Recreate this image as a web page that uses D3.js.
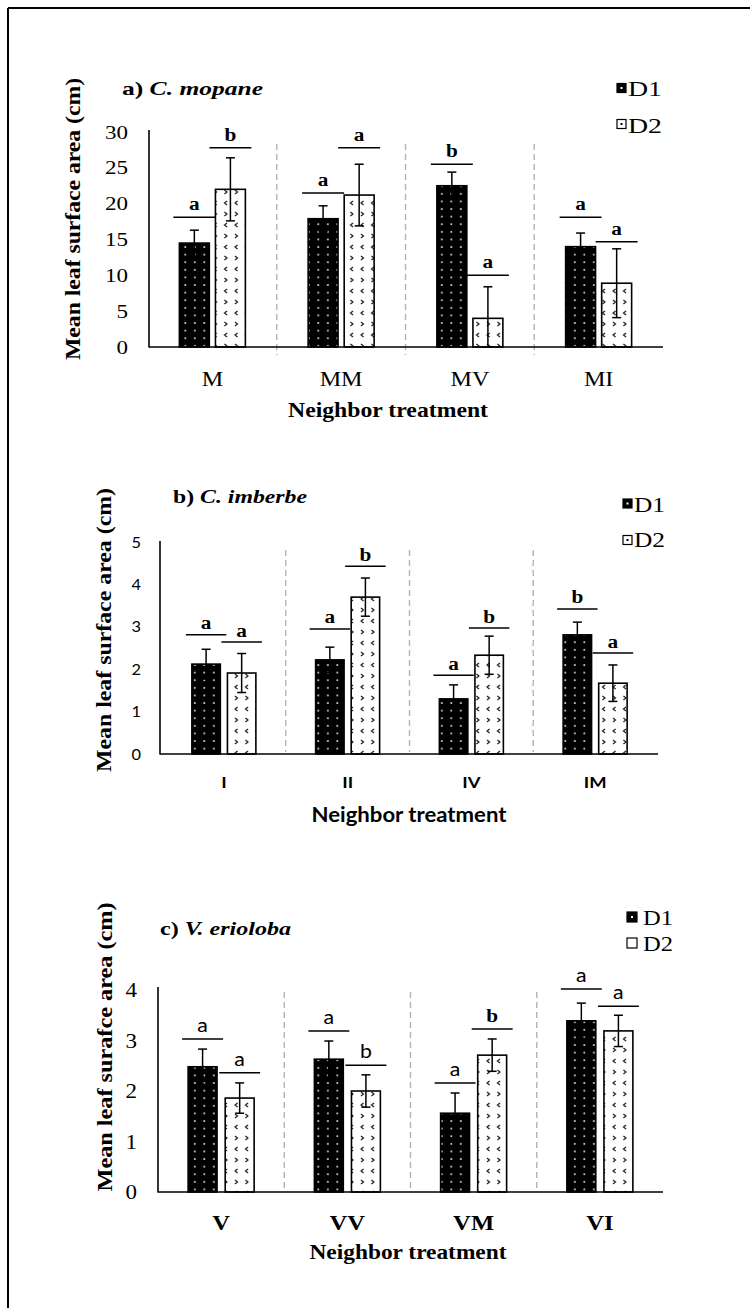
<!DOCTYPE html>
<html>
<head>
<meta charset="utf-8">
<script src="https://cdn.jsdelivr.net/npm/d3@7"></script>
<style>
  html, body { margin: 0; padding: 0; background: #fff; }
  svg { display: block; }
</style>
</head>
<body>
<div id="chart"></div>
<script>
// ---------------- DATA ----------------
const series = ["D1", "D2"];

// a) C. mopane
const catsA = ["M", "MM", "MV", "MI"];
const d1A = [14.5, 17.9, 22.5, 14.0];
const d1ErrA = [1.8, 1.8, 1.9, 1.9];
const d2A = [22.0, 21.2, 4.0, 8.9];
const d2ErrA = [4.4, 4.3, 4.4, 4.8];
const letD1A = ["a", "a", "b", "a"];
const letD2A = ["b", "a", "a", "a"];
const lineD1A = [18.1, 21.5, 25.5, 18.1];
const lineD2A = [27.8, 27.8, 10.0, 14.7];
const ticksA = [0, 5, 10, 15, 20, 25, 30];

// b) C. imberbe
const catsB = ["I", "II", "IV", "IM"];
const d1B = [2.12, 2.22, 1.30, 2.81];
const d1ErrB = [0.35, 0.30, 0.33, 0.30];
const d2B = [1.91, 3.70, 2.33, 1.67];
const d2ErrB = [0.46, 0.45, 0.45, 0.43];
const letD1B = ["a", "a", "a", "b"];
const letD2B = ["a", "b", "b", "a"];
const lineD1B = [2.81, 2.95, 1.86, 3.42];
const lineD2B = [2.64, 4.43, 2.97, 2.38];
const ticksB = [0, 1, 2, 3, 4, 5];

// c) V. erioloba
const catsC = ["V", "VV", "VM", "VI"];
const d1C = [2.48, 2.63, 1.56, 3.39];
const d1ErrC = [0.35, 0.36, 0.40, 0.35];
const d2C = [1.86, 2.00, 2.71, 3.19];
const d2ErrC = [0.30, 0.32, 0.32, 0.31];
const letD1C = ["a", "a", "a", "a"];
const letD2C = ["a", "b", "b", "a"];
const lineD1C = [3.03, 3.19, 2.16, 4.02];
const lineD2C = [2.36, 2.51, 3.23, 3.68];
const ticksC = [0, 1, 2, 3, 4];

// ---------------- RENDER ----------------
const W = 750, H = 1308;
const SERIF = "'Liberation Serif','Times New Roman',serif";
const SANS = "Lato,'Open Sans',sans-serif";

const svg = d3.select("#chart").append("svg")
  .attr("width", W).attr("height", H).attr("viewBox", `0 0 ${W} ${H}`);

const defs = svg.append("defs");
const p1 = defs.append("pattern").attr("id", "dots").attr("patternUnits", "userSpaceOnUse")
  .attr("width", 9.5).attr("height", 7.6);
p1.append("rect").attr("width", 9.5).attr("height", 7.6).attr("fill", "#000");
p1.append("rect").attr("x", 4).attr("y", 3).attr("width", 1.7).attr("height", 1.7).attr("fill", "#d8d8d8");

const p2 = defs.append("pattern").attr("id", "chev").attr("patternUnits", "userSpaceOnUse")
  .attr("width", 10.5).attr("height", 22);
p2.append("rect").attr("width", 10.5).attr("height", 22).attr("fill", "#fff");
p2.append("path").attr("d", "M6.5,3 L4,5 L6.5,7").attr("stroke", "#000").attr("stroke-width", 1).attr("fill", "none");
p2.append("path").attr("d", "M4,14 L6.5,16 L4,18").attr("stroke", "#000").attr("stroke-width", 1).attr("fill", "none");

// frame (top & left visible)
svg.append("line").attr("x1", 8).attr("y1", 8).attr("x2", W).attr("y2", 8).attr("stroke", "#000").attr("stroke-width", 2);
svg.append("line").attr("x1", 8).attr("y1", 8).attr("x2", 8).attr("y2", H).attr("stroke", "#000").attr("stroke-width", 2);

function T(g, s, x, y, o) {
  let tr = `translate(${x},${y})`;
  if (o.sx) tr += ` scale(${o.sx},1)`;
  if (o.rot) tr += ` rotate(${o.rot})`;
  const t = g.append("text").attr("transform", tr)
    .attr("font-family", o.fam || SERIF).attr("font-size", o.size)
    .attr("font-weight", o.weight || "normal").attr("font-style", o.style || "normal")
    .attr("text-anchor", o.anchor || "start").attr("fill", "#000");
  if (o.len) t.attr("textLength", o.len).attr("lengthAdjust", "spacingAndGlyphs");
  t.text(s);
  return t;
}

function panel(cfg) {
  const g = svg.append("g");
  const x = d3.scaleBand().domain(cfg.cats).range(cfg.xr).paddingInner(0).paddingOuter(0);
  const y = d3.scaleLinear().domain([0, cfg.ticks[cfg.ticks.length - 1]]).range(cfg.yr);
  const xi = d3.scaleBand().domain(series)
    .range([-cfg.half, cfg.half]).paddingInner(cfg.gapPad);

  // dashed separators
  cfg.cats.slice(1).forEach(c => {
    g.append("line").attr("x1", x(c)).attr("x2", x(c))
      .attr("y1", cfg.sepTop).attr("y2", cfg.sepBot)
      .attr("stroke", "#b3b3b3").attr("stroke-width", 1.4).attr("stroke-dasharray", "6,4");
  });

  // ticks labels
  cfg.ticks.forEach(t => {
    const s = String(t);
    T(g, s, cfg.tickX, y(t) + cfg.tickDy, { fam: cfg.tickFam, size: cfg.tickSize, anchor: "end", len: cfg.digitW * s.length });
  });

  const rows = cfg.cats.map((c, i) => ({
    c, i,
    vals: [
      { s: "D1", v: cfg.d1[i], e: cfg.e1[i], l: cfg.l1[i], ly: cfg.ly1[i] },
      { s: "D2", v: cfg.d2[i], e: cfg.e2[i], l: cfg.l2[i], ly: cfg.ly2[i] }
    ]
  }));

  rows.forEach(r => {
    const cx = x(r.c) + x.bandwidth() / 2;
    r.vals.forEach(d => {
      const bx = cx + xi(d.s), bw = xi.bandwidth();
      g.append("rect").attr("x", bx).attr("y", y(d.v)).attr("width", bw).attr("height", y(0) - y(d.v))
        .attr("fill", d.s === "D1" ? "url(#dots)" : "url(#chev)")
        .attr("stroke", "#000").attr("stroke-width", 1.6);
      const ex = bx + bw / 2;
      const eTop = y(d.v + d.e), eBot = y(Math.max(0, d.v - d.e));
      g.append("line").attr("x1", ex).attr("x2", ex).attr("y1", eTop).attr("y2", eBot)
        .attr("stroke", "#000").attr("stroke-width", 1.5);
      [eTop, eBot].forEach(yy => g.append("line").attr("x1", ex - 4.5).attr("x2", ex + 4.5)
        .attr("y1", yy).attr("y2", yy).attr("stroke", "#000").attr("stroke-width", 1.5));
      // significance line + letter
      const lyy = y(d.ly);
      g.append("line").attr("x1", bx - 6).attr("x2", bx + bw + 6).attr("y1", lyy).attr("y2", lyy)
        .attr("stroke", "#000").attr("stroke-width", 1.5);
      const lf = cfg.letterFont(r.i, d.s, d.l);
      T(g, d.l, bx + bw / 2, lyy - cfg.letterGap, { fam: lf.fam, size: lf.size, weight: lf.weight, anchor: "middle", sx: 1.12 });
    });
  });

  // axes lines
  g.append("line").attr("x1", cfg.axisX).attr("x2", cfg.axisX).attr("y1", cfg.axisTop).attr("y2", y(0) + 0.5)
    .attr("stroke", "#000").attr("stroke-width", 1.6);
  g.append("line").attr("x1", cfg.axisX).attr("x2", cfg.xEnd).attr("y1", y(0)).attr("y2", y(0))
    .attr("stroke", "#000").attr("stroke-width", 1.6);

  // category labels
  cfg.cats.forEach(c => {
    T(g, c, x(c) + x.bandwidth() / 2, cfg.catY, { fam: cfg.catFam, size: cfg.catSize, weight: cfg.catWeight, anchor: "middle", sx: cfg.catSx });
  });

  // x title
  T(g, "Neighbor treatment", cfg.xtX, cfg.xtY, { fam: cfg.xtFam, size: cfg.xtSize, weight: "bold", anchor: "middle", len: cfg.xtLen });

  // y title
  T(g, cfg.ylab, cfg.ytX, cfg.ytY, { fam: SERIF, size: cfg.ytSize, weight: "bold", anchor: "middle", rot: -90, sx: 1.1, len: cfg.ytLen });

  // panel title
  const tt = g.append("text").attr("transform", `translate(${cfg.titleX},${cfg.titleY})`)
    .attr("font-family", SERIF).attr("font-size", cfg.titleSize).attr("font-weight", "bold")
    .attr("textLength", cfg.titleLen).attr("lengthAdjust", "spacingAndGlyphs");
  tt.append("tspan").text(cfg.title[0]);
  tt.append("tspan").attr("font-style", "italic").text(cfg.title[1]);

  // legend
  series.forEach((s, k) => {
    const L = cfg.leg[k];
    const sq = cfg.legSq;
    g.append("rect").attr("x", L.sx).attr("y", L.cy - sq / 2).attr("width", sq).attr("height", sq)
      .attr("fill", s === "D1" ? "#000" : "#fff").attr("stroke", "#000").attr("stroke-width", 1.2);
    if (cfg.legDot[k]) {
      g.append("rect").attr("x", L.sx + sq / 2 - 1).attr("y", L.cy - 1).attr("width", 2).attr("height", 2)
        .attr("fill", s === "D1" ? "#fff" : "#000");
    }
    T(g, s, L.tx, L.by, { fam: SERIF, size: cfg.legSize, len: cfg.legLen });
  });
}

const serifBold = { fam: SERIF, size: 19, weight: "bold" };

panel({
  cats: catsA, d1: d1A, e1: d1ErrA, d2: d2A, e2: d2ErrA,
  l1: letD1A, l2: letD2A, ly1: lineD1A, ly2: lineD2A, ticks: ticksA,
  xr: [148, 663], yr: [347, 132], half: 33, gapPad: 0.17,
  sepTop: 144, sepBot: 355, axisX: 149, axisTop: 130, xEnd: 663,
  tickX: 128, tickDy: 6.5, tickFam: SERIF, tickSize: 19, digitW: 11.5,
  letterGap: 7, letterFont: () => serifBold,
  catY: 386, catFam: SERIF, catSize: 21, catWeight: "normal", catSx: 1.15,
  xtX: 388, xtY: 417, xtFam: SERIF, xtSize: 21, xtLen: 200,
  ylab: "Mean leaf surface area (cm)", ytX: 80, ytY: 219, ytSize: 20, ytLen: 282,
  title: ["a) ", "C. mopane"], titleX: 122, titleY: 95, titleSize: 19, titleLen: 141,
  leg: [{ sx: 617, cy: 88, tx: 628, by: 96 }, { sx: 617, cy: 124, tx: 628, by: 133 }],
  legSq: 9, legDot: [true, true], legSize: 21, legLen: 34
});

panel({
  cats: catsB, d1: d1B, e1: d1ErrB, d2: d2B, e2: d2ErrB,
  l1: letD1B, l2: letD2B, ly1: lineD1B, ly2: lineD2B, ticks: ticksB,
  xr: [162, 657], yr: [754, 542], half: 32, gapPad: 0.2,
  sepTop: 550, sepBot: 752, axisX: 160, axisTop: 541, xEnd: 658,
  tickX: 141, tickDy: 5.5, tickFam: SANS, tickSize: 16, digitW: 9.5,
  letterGap: 5.5, letterFont: () => serifBold,
  catY: 788, catFam: SANS, catSize: 16, catWeight: "bold", catSx: 1.15,
  xtX: 409, xtY: 822, xtFam: SANS, xtSize: 20, xtLen: 195,
  ylab: "Mean leaf surface area (cm)", ytX: 111, ytY: 630, ytSize: 20, ytLen: 284,
  title: ["b) ", "C. imberbe"], titleX: 173, titleY: 503, titleSize: 19, titleLen: 134,
  leg: [{ sx: 623, cy: 503.5, tx: 634, by: 512 }, { sx: 623, cy: 540, tx: 634, by: 547 }],
  legSq: 9, legDot: [true, true], legSize: 21, legLen: 31
});

panel({
  cats: catsC, d1: d1C, e1: d1ErrC, d2: d2C, e2: d2ErrC,
  l1: letD1C, l2: letD2C, ly1: lineD1C, ly2: lineD2C, ticks: ticksC,
  xr: [158, 663], yr: [1192, 990], half: 33, gapPad: 0.22,
  sepTop: 992, sepBot: 1190, axisX: 158, axisTop: 987, xEnd: 663,
  tickX: 137, tickDy: 7, tickFam: SERIF, tickSize: 21, digitW: 11.5,
  letterGap: 7,
  letterFont: (i, s, l) => (l === "b" && !(i === 1 && s === "D2")) ? serifBold : { fam: SANS, size: 19, weight: "normal" },
  catY: 1230, catFam: SERIF, catSize: 22, catWeight: "bold", catSx: 1.12,
  xtX: 408, xtY: 1259, xtFam: SERIF, xtSize: 21, xtLen: 197,
  ylab: "Mean leaf surafce area (cm)", ytX: 112, ytY: 1047, ytSize: 20, ytLen: 289,
  title: ["c) ", "V. erioloba"], titleX: 160, titleY: 935, titleSize: 19, titleLen: 131,
  leg: [{ sx: 627, cy: 917, tx: 643, by: 925 }, { sx: 627, cy: 943, tx: 643, by: 951 }],
  legSq: 10, legDot: [true, false], legSize: 21, legLen: 30
});
</script>
</body>
</html>
